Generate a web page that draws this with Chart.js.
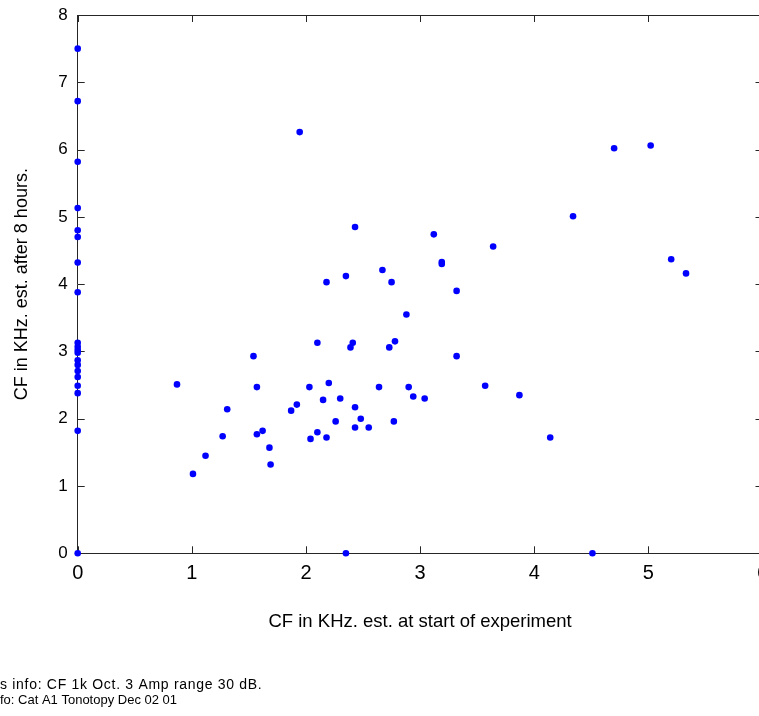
<!DOCTYPE html>
<html>
<head>
<meta charset="utf-8">
<title>CF estimate scatter</title>
<script src="https://cdn.jsdelivr.net/npm/chart.js@4.4.1/dist/chart.umd.min.js"></script>
<style>
  html, body { margin: 0; padding: 0; background: #fff; overflow: hidden; }
  #wrap { width: 759px; height: 716px; overflow: hidden; position: relative; }
  #cfChart { position: absolute; left: 0; top: 0; }
</style>
</head>
<body>
<div id="wrap">
  <canvas id="cfChart" width="770" height="716"></canvas>
</div>
<script>
// CF (kHz) estimated at start of experiment
let cfStart = [
    0, 0, 0, 0, 0, 0, 0, 0, 0, 0,
    0, 0, 0, 0, 0, 0, 0, 0, 0, 0,
    0.87, 1.01, 1.12, 1.27, 1.31, 1.54, 1.57, 1.57, 1.62, 1.68,
    1.69, 1.87, 1.92, 1.945, 2.03, 2.04, 2.10, 2.10, 2.15, 2.18,
    2.18, 2.20, 2.26, 2.30, 2.35, 2.35, 2.39, 2.41, 2.43, 2.43,
    2.43, 2.48, 2.55, 2.64, 2.67, 2.73, 2.75, 2.77, 2.78, 2.88,
    2.90, 2.94, 3.04, 3.12, 3.19, 3.19, 3.32, 3.32, 3.57, 3.64,
    3.87, 4.14, 4.34, 4.51, 4.70, 5.02, 5.20, 5.33
];
// CF (kHz) estimated after 8 hours
let cfAfter = [
    7.50, 6.72, 5.82, 5.13, 4.80, 4.70, 4.32, 3.88, 3.13, 3.07,
    3.02, 2.98, 2.87, 2.80, 2.71, 2.62, 2.49, 2.38, 1.82, 0,
    2.51, 1.18, 1.45, 1.74, 2.14, 2.93, 2.47, 1.77, 1.82, 1.57,
    1.32, 2.12, 2.21, 6.26, 2.47, 1.70, 3.13, 1.80, 2.28, 1.72,
    4.03, 2.53, 1.96, 2.30, 4.12, 0, 3.06, 3.13, 4.85, 2.17,
    1.87, 2.00, 1.87, 2.47, 4.21, 3.06, 4.03, 1.96, 3.15, 3.55,
    2.47, 2.33, 2.30, 4.74, 4.33, 4.30, 3.90, 2.93, 2.49, 4.56,
    2.35, 1.72, 5.01, 0, 6.02, 6.06, 4.37, 4.16
];
let xTicks = [0, 1, 2, 3, 4, 5, 6];
let yTicks = [0, 1, 2, 3, 4, 5, 6, 7, 8];
let xTitle = 'CF in KHz. est. at start of experiment';
let yTitle = 'CF in KHz. est. after 8 hours.';
let footLines = [
    's info: CF 1k Oct. 3 Amp range 30 dB.',
    'fo: Cat A1 Tonotopy Dec 02 01'
];

let points = cfStart.map((v, i) => ({ x: v, y: cfAfter[i] }));

let axisColor = '#262626';
let sans = '"Liberation Sans", Arial, Helvetica, sans-serif';

// matlab style box: inward ticks on all four sides + top/right lines
let boxPlugin = {
    id: 'matlabBox',
    beforeDatasetsDraw(chart) {
        let { ctx, chartArea: a, scales } = chart;
        let tl = 7;
        ctx.save();
        ctx.strokeStyle = axisColor;
        ctx.lineWidth = 1;
        ctx.beginPath();
        ctx.moveTo(a.left, Math.round(a.top) + 0.5);
        ctx.lineTo(a.right, Math.round(a.top) + 0.5);
        ctx.moveTo(Math.round(a.right) + 0.5, a.top);
        ctx.lineTo(Math.round(a.right) + 0.5, a.bottom);
        scales.x.ticks.forEach(t => {
            let px = Math.round(scales.x.getPixelForValue(t.value)) + 0.5;
            ctx.moveTo(px, a.bottom);
            ctx.lineTo(px, a.bottom - tl);
            ctx.moveTo(px, a.top);
            ctx.lineTo(px, a.top + tl);
        });
        scales.y.ticks.forEach(t => {
            let py = Math.round(scales.y.getPixelForValue(t.value)) + 0.5;
            ctx.moveTo(a.left, py);
            ctx.lineTo(a.left + tl, py);
            ctx.moveTo(a.right, py);
            ctx.lineTo(a.right - tl, py);
        });
        ctx.stroke();
        ctx.restore();
    },
    afterDraw(chart) {
        let ctx = chart.ctx;
        ctx.save();
        ctx.fillStyle = '#000';
        ctx.textBaseline = 'alphabetic';
        ctx.textAlign = 'left';
        ctx.font = '14px ' + sans;
        ctx.letterSpacing = '0.7px';
        ctx.fillText(footLines[0], 0, 689);
        ctx.font = '13px ' + sans;
        ctx.letterSpacing = '0px';
        ctx.fillText(footLines[1], 0, 704);
        ctx.restore();
    }
};

let cfChart = new Chart(document.getElementById('cfChart'), {
    type: 'scatter',
    data: {
        datasets: [{
            label: 'CF',
            data: points,
            backgroundColor: '#0000ff',
            borderColor: '#0000ff',
            pointRadius: 3.3,
            pointBorderWidth: 0,
            pointHoverRadius: 3.3,
            clip: false
        }]
    },
    options: {
        responsive: false,
        devicePixelRatio: 1,
        animation: false,
        layout: { padding: { top: 15, right: 7.5, left: 0, bottom: 0 } },
        plugins: {
            legend: { display: false },
            tooltip: { enabled: false }
        },
        scales: {
            x: {
                type: 'linear',
                min: 0,
                max: 6,
                afterBuildTicks: s => { s.ticks = xTicks.map(v => ({ value: v })); },
                afterFit: s => {
                    s.height = 162.7;
                    s.paddingLeft = 0;
                    s.paddingRight = 0;
                },
                grid: { display: false, drawTicks: false },
                border: { display: true, color: axisColor, width: 1 },
                ticks: {
                    color: '#000',
                    padding: 8,
                    font: { family: sans, size: 20 }
                },
                title: {
                    display: true,
                    text: xTitle,
                    color: '#000',
                    font: { family: sans, size: 18.5 },
                    padding: { top: 0, bottom: 83 }
                }
            },
            y: {
                type: 'linear',
                min: 0,
                max: 8,
                afterBuildTicks: s => { s.ticks = yTicks.map(v => ({ value: v })); },
                afterFit: s => {
                    s.width = 77.7;
                    s.paddingTop = 0;
                    s.paddingBottom = 0;
                },
                grid: { display: false, drawTicks: false },
                border: { display: true, color: axisColor, width: 1 },
                ticks: {
                    color: '#000',
                    padding: 10,
                    font: { family: sans, size: 17 }
                },
                title: {
                    display: true,
                    text: yTitle,
                    color: '#000',
                    font: { family: sans, size: 18 },
                    padding: { top: 11, bottom: 0 }
                }
            }
        }
    },
    plugins: [boxPlugin]
});
</script>
</body>
</html>
